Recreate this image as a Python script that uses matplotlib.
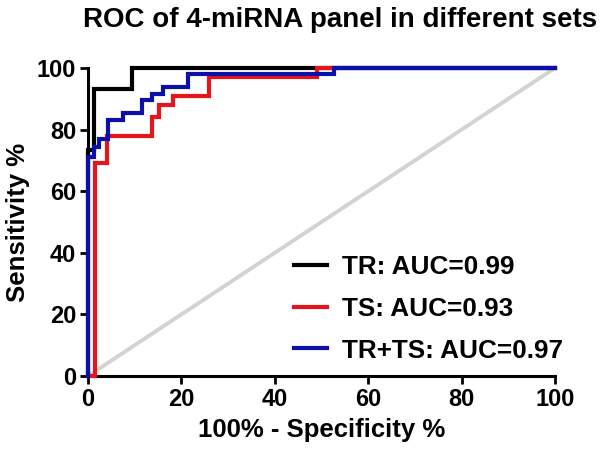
import matplotlib
matplotlib.use('Agg')
import matplotlib.pyplot as plt

plt.rcParams['font.family'] = ['Liberation Sans', 'DejaVu Sans']
plt.rcParams['font.weight'] = 'bold'

# ROC points (steps: vertical first, then horizontal)
tr_fpr = [0, 1.3, 9.4, 100]
tr_tpr = [0, 73.3, 93.3, 100]

ts_fpr = [0, 1.5, 4.0, 13.6, 15.3, 18.3, 26.0, 49.0, 100]
ts_tpr = [0, 0, 69.0, 78.0, 84.0, 88.0, 91.0, 97.0, 100]

all_fpr = [0, 1.2, 2.3, 4.3, 7.5, 11.5, 13.6, 16.1, 21.5, 52.7, 100]
all_tpr = [0, 71.0, 74.5, 77.0, 83.0, 85.4, 89.6, 91.7, 93.7, 97.9, 100]

labels = ['TR: AUC=0.99', 'TS: AUC=0.93', 'TR+TS: AUC=0.97']
colors = ['#000000', '#e8141c', '#0a10a8']
ticks = [0, 20, 40, 60, 80, 100]

fig = plt.figure(figsize=(6, 4.58), dpi=100)
ax = fig.add_axes([88 / 600, 1 - 376 / 458, (555 - 88) / 600, (376 - 68) / 458])

ax.plot([0, 100], [0, 100], color='#d3d3d3', lw=2.8, zorder=1, clip_on=False)
lines = []
for fx, ty, c in zip([tr_fpr, ts_fpr, all_fpr], [tr_tpr, ts_tpr, all_tpr], colors):
    ln, = ax.plot(fx, ty, drawstyle='steps-pre', color=c, lw=3.0,
                  solid_joinstyle='miter', clip_on=False, zorder=3)
    lines.append(ln)

ax.set_xlim(0, 100)
ax.set_ylim(0, 100)
ax.set_xticks(ticks)
ax.set_yticks(ticks)
ax.tick_params(width=2, length=5.5, labelsize=17, pad=3)
for s in ['top', 'right']:
    ax.spines[s].set_visible(False)
for s in ['left', 'bottom']:
    ax.spines[s].set_linewidth(2.2)

ax.set_xlabel('100% - Specificity %', fontsize=18.5, fontweight='bold', labelpad=5)
ax.set_ylabel('Sensitivity %', fontsize=18.5, fontweight='bold', labelpad=5)

fig.text(340 / 600, 1 - 20 / 458, 'ROC of 4-miRNA panel in different sets',
         ha='center', va='center', fontsize=20, fontweight='bold')

leg = ax.legend(lines, labels, loc='upper left', bbox_to_anchor=(281 / 600, 1 - 242 / 458),
                bbox_transform=fig.transFigure, frameon=False, fontsize=18.8,
                handlelength=1.25, handletextpad=0.6, labelspacing=0.68, borderpad=0)
for h in leg.get_lines():
    h.set_linewidth(3.0)

fig.savefig('out.png', dpi=100)
